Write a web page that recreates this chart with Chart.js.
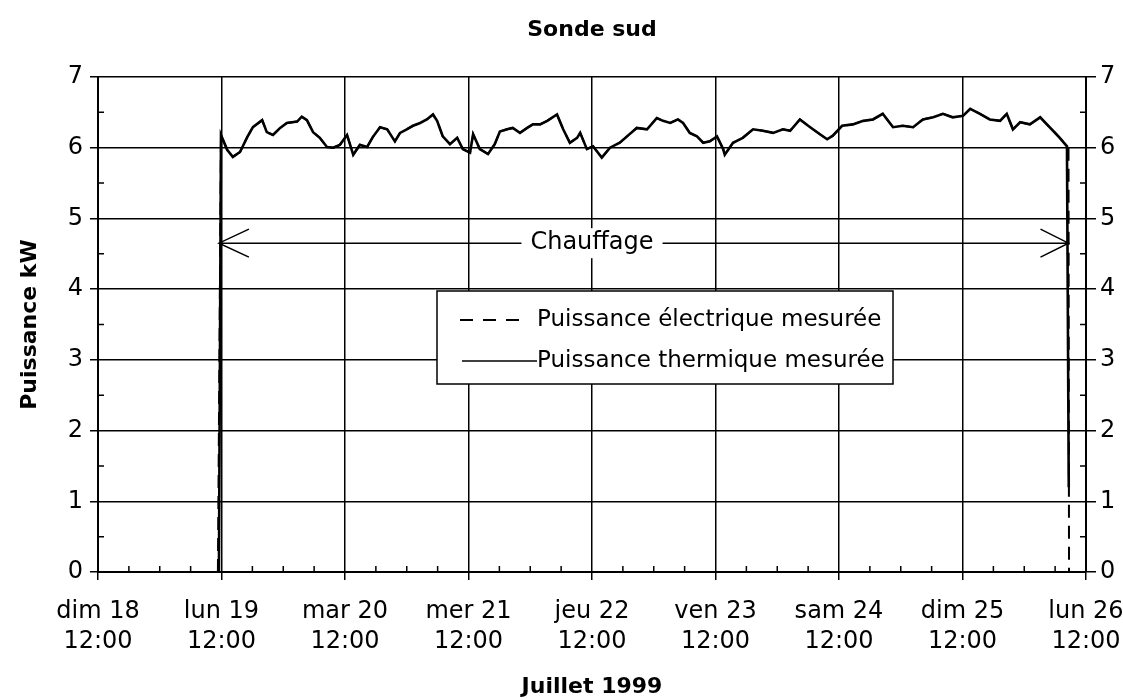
<!DOCTYPE html>
<html lang="fr">
<head>
<meta charset="UTF-8">
<title>Sonde sud</title>
<script src="https://cdn.jsdelivr.net/npm/chart.js"></script>
<style>
  body { margin: 0; background: #fff; }
</style>
</head>
<body>
<canvas id="graphique" width="1123" height="700"></canvas>
<script>
// heures comptees depuis dim 18 juillet 1999 a 12:00
var jours = ['dim 18', 'lun 19', 'mar 20', 'mer 21', 'jeu 22', 'ven 23', 'sam 24', 'dim 25', 'lun 26'];
var heure = '12:00';

// puissance thermique mesuree (kW)
var heures = [23.5, 23.9, 25.1, 26.2, 27.6, 29.0, 30.1, 31.9, 32.8, 34.0, 35.4, 36.7, 38.7, 39.6, 40.6,
  41.8, 43.1, 44.5, 45.7, 47.0, 48.4, 49.6, 50.9, 52.3, 53.4, 54.8, 56.2, 57.7, 58.7, 60.0, 61.2, 62.6,
  63.9, 65.1, 65.9, 67.0, 68.4, 69.8, 70.9, 72.3, 72.9, 74.2, 75.8, 77.1, 78.1, 79.5, 80.6, 82.0, 83.4,
  84.5, 85.9, 87.3, 89.2, 90.4, 91.7, 93.1, 93.7, 95.0, 96.2, 97.9, 99.5, 101.4, 102.8, 104.7, 106.7,
  108.6, 109.8, 111.2, 112.7, 113.7, 115.0, 116.4, 117.6, 118.9, 120.3, 121.5, 121.8, 123.4, 125.3,
  127.3, 129.2, 131.2, 133.1, 134.5, 136.4, 138.4, 140.3, 141.7, 142.8, 144.6, 146.7, 148.7, 150.6,
  152.5, 154.5, 156.4, 158.4, 160.3, 162.3, 164.2, 166.1, 168.1, 169.5, 171.4, 173.3, 175.3, 176.6,
  177.8, 179.2, 181.1, 183.1, 184.4, 185.6, 186.9, 188.3, 188.65];
var thermique = [0, 6.18, 5.97, 5.87, 5.94, 6.15, 6.29, 6.39, 6.22, 6.18, 6.28, 6.35, 6.37, 6.44, 6.39,
  6.22, 6.14, 6.01, 6.0, 6.04, 6.18, 5.9, 6.04, 6.01, 6.15, 6.29, 6.26, 6.09, 6.21, 6.26, 6.31, 6.35,
  6.4, 6.47, 6.38, 6.16, 6.05, 6.14, 5.98, 5.93, 6.19, 5.98, 5.91, 6.05, 6.23, 6.26, 6.28, 6.21, 6.28,
  6.33, 6.33, 6.38, 6.47, 6.26, 6.07, 6.14, 6.21, 5.98, 6.02, 5.86, 6.0, 6.07, 6.16, 6.28, 6.26,
  6.42, 6.38, 6.35, 6.4, 6.35, 6.21, 6.16, 6.07, 6.09, 6.16, 5.98, 5.9, 6.07, 6.14,
  6.26, 6.24, 6.21, 6.26, 6.24, 6.4, 6.29, 6.19, 6.12, 6.17, 6.31, 6.33, 6.38, 6.4,
  6.48, 6.29, 6.31, 6.29, 6.4, 6.43, 6.48, 6.43, 6.45, 6.55, 6.48, 6.4, 6.38, 6.48,
  6.26, 6.36, 6.33, 6.43, 6.33, 6.24, 6.14, 6.02, 1.2];

// puissance electrique : confondue avec la thermique sauf au debut et a la fin
var heuresElecDebut = [23.3];
var elecDebut = [0];
var heuresElecFin = [188.6, 188.7];
var elecFin = [6.0, 0];

// fleche "Chauffage"
var chauffageDebut = 23.5;
var chauffageFin = 188.6;
var chauffageNiveau = 4.65;
var chauffageTexte = 96;

var pointsThermique = heures.map(function (h, i) { return { x: h, y: thermique[i] }; });
var pointsElec = [];
heuresElecDebut.forEach(function (h, i) { pointsElec.push({ x: h, y: elecDebut[i] }); });
for (var i = 1; i < heures.length - 1; i++) pointsElec.push({ x: heures[i], y: thermique[i] });
heuresElecFin.forEach(function (h, i) { pointsElec.push({ x: h, y: elecFin[i] }); });

Chart.defaults.font.family = '"DejaVu Sans", Arial, sans-serif';
Chart.defaults.color = '#000';

var police = { size: 24, lineHeight: 1.25 };
var gras = { size: 22, weight: 'bold', lineHeight: 1.2 };

// petites graduations, fleche et legende
var decor = {
  id: 'decor',
  afterDraw: function (chart) {
    var ctx = chart.ctx, a = chart.chartArea;
    var sx = chart.scales.x, sy = chart.scales.y;
    ctx.save();
    ctx.strokeStyle = '#000';
    ctx.lineWidth = 1.5;
    ctx.beginPath();
    for (var h = 6; h < 192; h += 6) {
      if (h % 24 === 0) continue;
      var px = sx.getPixelForValue(h);
      ctx.moveTo(px, a.bottom);
      ctx.lineTo(px, a.bottom - 6);
    }
    for (var v = 0.5; v < 7; v += 1) {
      var py = sy.getPixelForValue(v);
      ctx.moveTo(a.left, py);
      ctx.lineTo(a.left + 6, py);
      ctx.moveTo(a.right, py);
      ctx.lineTo(a.right - 6, py);
    }
    ctx.stroke();

    // fleche double
    var x1 = sx.getPixelForValue(chauffageDebut);
    var x2 = sx.getPixelForValue(chauffageFin);
    var yf = sy.getPixelForValue(chauffageNiveau);
    ctx.beginPath();
    ctx.moveTo(x1, yf); ctx.lineTo(x2, yf);
    ctx.moveTo(x1 + 30, yf - 14); ctx.lineTo(x1, yf); ctx.lineTo(x1 + 30, yf + 14);
    ctx.moveTo(x2 - 28, yf - 14); ctx.lineTo(x2, yf); ctx.lineTo(x2 - 28, yf + 14);
    ctx.stroke();
    ctx.font = '24px "DejaVu Sans"';
    ctx.textAlign = 'center';
    ctx.textBaseline = 'middle';
    var tx = sx.getPixelForValue(chauffageTexte);
    var w = ctx.measureText('Chauffage').width;
    ctx.fillStyle = '#fff';
    ctx.fillRect(tx - w / 2 - 9, yf - 15, w + 18, 30);
    ctx.fillStyle = '#000';
    ctx.fillText('Chauffage', tx, yf);

    // legende
    var bx = a.left + 339, by = a.top + 214, bw = 456, bh = 93;
    ctx.fillStyle = '#fff';
    ctx.fillRect(bx, by, bw, bh);
    ctx.strokeRect(bx, by, bw, bh);
    ctx.lineWidth = 2;
    ctx.beginPath();
    ctx.setLineDash([13, 10]);
    ctx.moveTo(bx + 23, by + 29); ctx.lineTo(bx + 84, by + 29);
    ctx.stroke();
    ctx.setLineDash([]);
    ctx.lineWidth = 1.5;
    ctx.beginPath();
    ctx.moveTo(bx + 25, by + 70); ctx.lineTo(bx + 100, by + 70);
    ctx.stroke();
    ctx.fillStyle = '#000';
    ctx.textAlign = 'left';
    ctx.font = '23px "DejaVu Sans"';
    ctx.fillText('Puissance électrique mesurée', bx + 100, by + 29);
    ctx.fillText('Puissance thermique mesurée', bx + 100, by + 70);
    ctx.restore();
  }
};

new Chart(document.getElementById('graphique'), {
  type: 'line',
  data: {
    datasets: [{
      label: 'Puissance électrique mesurée',
      data: pointsElec,
      borderColor: '#000',
      borderWidth: 2,
      borderDash: [13, 8],
      pointRadius: 0,
      order: 2
    }, {
      label: 'Puissance thermique mesurée',
      data: pointsThermique,
      borderColor: '#000',
      borderWidth: 2.6,
      pointRadius: 0,
      order: 1
    }]
  },
  options: {
    responsive: false,
    animation: false,
    layout: { padding: 0 },
    plugins: {
      legend: { display: false },
      tooltip: { enabled: false },
      title: {
        display: true,
        text: 'Sonde sud',
        fullSize: false,
        font: gras,
        padding: { top: 17, bottom: 33.6 }
      }
    },
    scales: {
      x: {
        type: 'linear',
        min: 0,
        max: 192,
        ticks: {
          stepSize: 24,
          autoSkip: false,
          maxRotation: 0,
          font: police,
          padding: 17,
          callback: function (v) { return [jours[v / 24], heure]; }
        },
        grid: { color: '#000', lineWidth: 1.5, tickLength: 8 },
        border: { color: '#000', width: 2 },
        title: { display: true, text: 'Juillet 1999', font: gras, padding: { top: 0, bottom: 0 } },
        afterFit: function (s) { s.height = 128; s.paddingLeft = 0; s.paddingRight = 0; }
      },
      y: {
        position: 'left',
        min: 0,
        max: 7,
        ticks: { stepSize: 1, font: police, padding: 7 },
        grid: { color: '#000', lineWidth: 1.5, tickLength: 8 },
        border: { color: '#000', width: 2 },
        title: { display: true, text: 'Puissance kW', font: gras, padding: { top: 17, bottom: 0 } },
        afterFit: function (s) { s.width = 98; s.paddingTop = 0; s.paddingBottom = 0; }
      },
      y2: {
        position: 'right',
        min: 0,
        max: 7,
        ticks: { stepSize: 1, font: police, padding: 4 },
        grid: { drawOnChartArea: false, color: '#000', lineWidth: 1.5, tickLength: 10 },
        border: { color: '#000', width: 2 },
        afterFit: function (s) { s.width = 37; s.paddingTop = 0; s.paddingBottom = 0; }
      }
    }
  },
  plugins: [decor]
});
</script>
</body>
</html>
